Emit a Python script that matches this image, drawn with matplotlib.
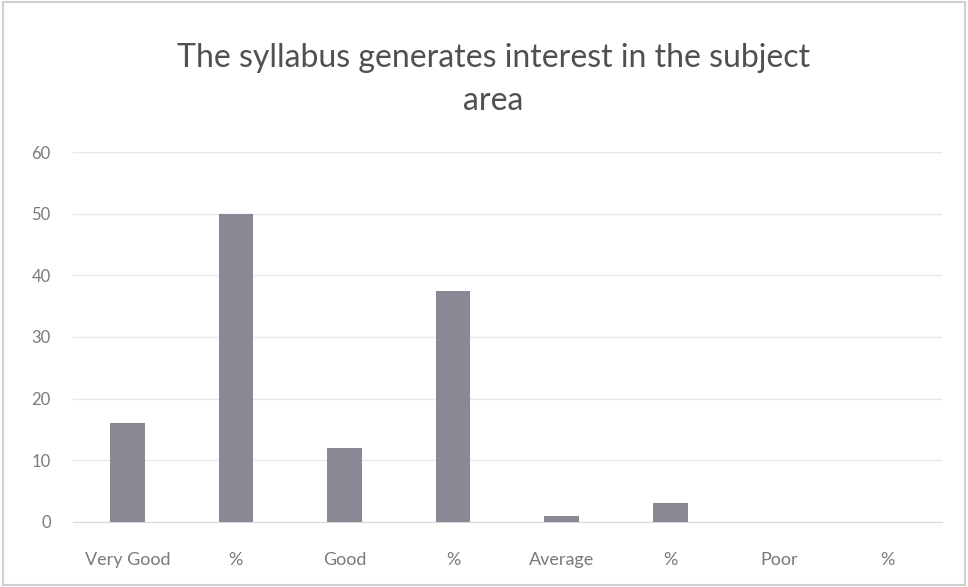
import matplotlib.pyplot as plt

# data
categories = ['Very Good', '%', 'Good', '%', 'Average', '%', 'Poor', '%']
values = [16, 50, 12, 37.5, 1, 3, 0, 0]
y_ticks = [0, 10, 20, 30, 40, 50, 60]

plt.rcParams['font.family'] = ['Lato', 'DejaVu Sans']

fig = plt.figure(figsize=(9.68, 5.87), dpi=100)
fig.patch.set_facecolor('white')
ax = fig.add_axes([0.0754, 0.111, 0.8976, 0.630])

x = list(range(len(categories)))
ax.bar(x, values, width=0.32, color='#8b8896', zorder=3)

ax.set_xlim(-0.5, len(categories) - 0.5)
ax.set_ylim(0, 60)
ax.set_yticks(y_ticks)
ax.set_xticks(x)
ax.set_xticklabels(categories)

ax.grid(axis='y', color='#e8e8e8', linewidth=1.0, zorder=0)
for s in ['top', 'right', 'left']:
    ax.spines[s].set_visible(False)
ax.spines['bottom'].set_color('#d9d9d9')
ax.tick_params(axis='both', length=0, colors='#7a7a7a')
ax.tick_params(axis='x', pad=22, labelsize=13)
ax.tick_params(axis='y', pad=16, labelsize=12)

fig.text(0.51, 0.902, 'The syllabus generates interest in the subject',
         ha='center', va='center', fontsize=23, color='#505050')
fig.text(0.51, 0.828, 'area', ha='center', va='center', fontsize=23, color='#505050')

# faint border of the scanned chart
fig.add_artist(plt.Rectangle((0.003, 0.003), 0.994, 0.994, transform=fig.transFigure,
                             fill=False, edgecolor='#d0d0d0', linewidth=1.5))

fig.savefig('out.png', dpi=100)
